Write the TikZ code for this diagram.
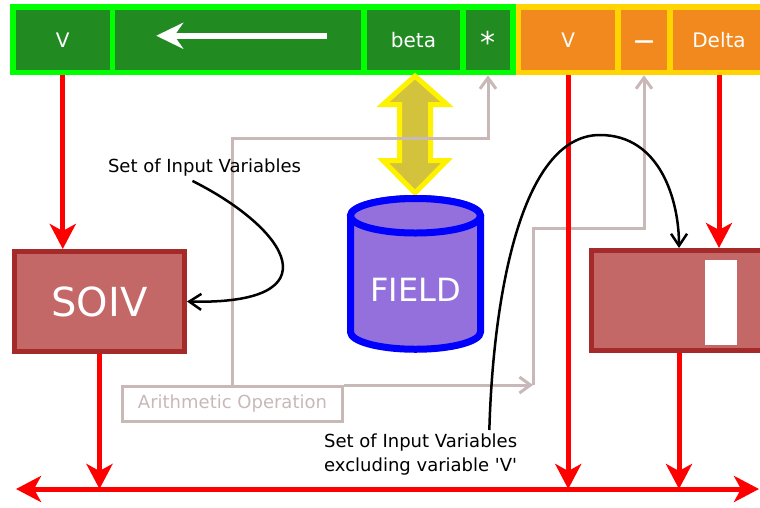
\documentclass[tikz,border=0pt]{standalone}
\usepackage{fontspec}
\setmainfont{DejaVu Sans}[Ligatures=TeXOff]
\usetikzlibrary{arrows.meta}
\usetikzlibrary{positioning}
\usetikzlibrary{calc}

\definecolor{cellgreen}{HTML}{218A21}
\definecolor{cellorange}{HTML}{F2891F}
\definecolor{cellgold}{HTML}{FFD400}
\definecolor{boxred}{HTML}{C46767}
\definecolor{boxedge}{HTML}{A52A2A}
\definecolor{opgray}{HTML}{C8B8B8}
\definecolor{fieldfill}{HTML}{9370DB}
\definecolor{swapfill}{HTML}{D3C23B}

\begin{document}
\begin{tikzpicture}[
    x=1pt, y=-1pt,
    gcell/.style={
        draw=green, fill=cellgreen, line width=5.5pt,
        minimum height=65.5pt, text=white,
        font=\fontsize{20}{24}\selectfont,
        text height=15pt, text depth=0.5pt, inner sep=0pt
    },
    ocell/.style={gcell, draw=cellgold, fill=cellorange},
    fbox/.style={draw=boxedge, fill=boxred, line width=5pt, minimum height=100pt},
    redflow/.style={draw=red, line width=5pt, >={Stealth[length=25pt,width=26pt,inset=7pt]}},
    opline/.style={draw=opgray, line width=3pt, -{Straight Barb[length=11pt,width=16pt]}},
    note/.style={font=\fontsize{18}{24}\selectfont, inner sep=0pt},
    pointer/.style={draw=black, line width=2.5pt, -{Straight Barb[length=12pt,width=16pt]}}
]
\useasboundingbox (0,0) rectangle (760,507);
\clip (0,0) rectangle (760,507);

\node[gcell, minimum width=99.5pt] (vin) at (62.75,39.75) {V};
\node[gcell, minimum width=251.5pt, right=-5.5pt of vin] (flow) {};
\node[gcell, minimum width=99pt, right=-5.5pt of flow] (beta) {beta};
\node[gcell, minimum width=50pt, right=-5.5pt of beta, font=\fontsize{30}{30}\selectfont, text height=27pt] (star) {*};
\node[ocell, minimum width=99.5pt, right=0pt of star] (vout) {V};
\node[ocell, minimum width=52pt, right=-5.5pt of vout, font=\bfseries\fontsize{20}{24}\selectfont] (minus) {—};
\node[ocell, minimum width=98pt, right=-5.5pt of minus] (delta) {Delta};
\draw[white, line width=6pt, -{Stealth[length=27pt,width=26pt,inset=9pt]}] ([shift={(89,-4)}]flow.center) -- ([shift={(-82,-4)}]flow.center);

\node[fbox, minimum width=170pt, text=white, font=\fontsize{40}{48}\selectfont] (soiv) at (99.5,301.5) {SOIV};
\node[fbox, minimum width=229pt] (result) at (705.5,300.5) {};
\node[fill=white, minimum width=32pt, minimum height=85pt, inner sep=0pt] (slot) at (721,302.5) {};

\filldraw[fill=swapfill, draw=yellow, line width=5pt, line join=miter] (415,76) -- (447,104.5) -- (430.5,104.5) -- (430.5,160.5) -- (447,160.5) -- (415,193) -- (383,160.5) -- (399.5,160.5) -- (399.5,104.5) -- (383,104.5) -- cycle;

\filldraw[fill=fieldfill, draw=blue, line width=7pt] (350.5,215.75) -- (350.5,332) arc[start angle=180, end angle=0, x radius=65, y radius=17.25] -- (480.5,215.75) arc[start angle=0, end angle=-180, x radius=65, y radius=17.25] -- cycle;
\filldraw[fill=fieldfill, draw=blue, line width=7pt] (415.5,215.75) ellipse[x radius=65, y radius=17.25];
\node[text=white, font=\fontsize{32}{38}\selectfont, inner sep=0pt] (field) at (415.5,290) {FIELD};

\node[draw=opgray, line width=3pt, text=opgray, note, minimum width=220pt, minimum height=35pt] (arith) at (232.5,404) {Arithmetic Operation};
\coordinate (bus) at (533,385);
\draw[opline] (arith.north) -- (arith.north |- 0,138) -| (star.south);
\draw[opline] (arith.north east) -- (bus);
\draw[opline] (bus) -- (bus |- 0,228) -| (minus.south);

\coordinate (outL) at (16,489);
\coordinate (outR) at (759,489);
\coordinate (resfoot) at (679,489);
\draw[redflow, ->] (vin.south) -- (vin.south |- soiv.north);
\draw[redflow, ->] (soiv.south) -- (soiv.south |- outL);
\draw[redflow, ->] (vout.south) -- (vout.south |- outL);
\draw[redflow, ->] (delta.south) -- (delta.south |- result.north);
\draw[redflow, ->] (result.south -| resfoot) -- (resfoot);
\draw[redflow, <->] (outL) -- (outR);

\node[note, anchor=base] (inlabel) at (204.5,172) {Set of Input Variables};
\node[note, align=left, anchor=north west] (exlabel) at (324,434) {Set of Input Variables\\excluding variable 'V'};
\draw[pointer] ([shift={(-12,5)}]inlabel.south) .. controls (290,230) and (335,305) .. (soiv.east);
\draw[pointer] ([shift={(-28,-4)}]exlabel.north east) .. controls (493,300) and (520,135) .. (600,135) .. controls (660,135) and (679,200) .. (result.north -| resfoot);
\end{tikzpicture}
\end{document}
